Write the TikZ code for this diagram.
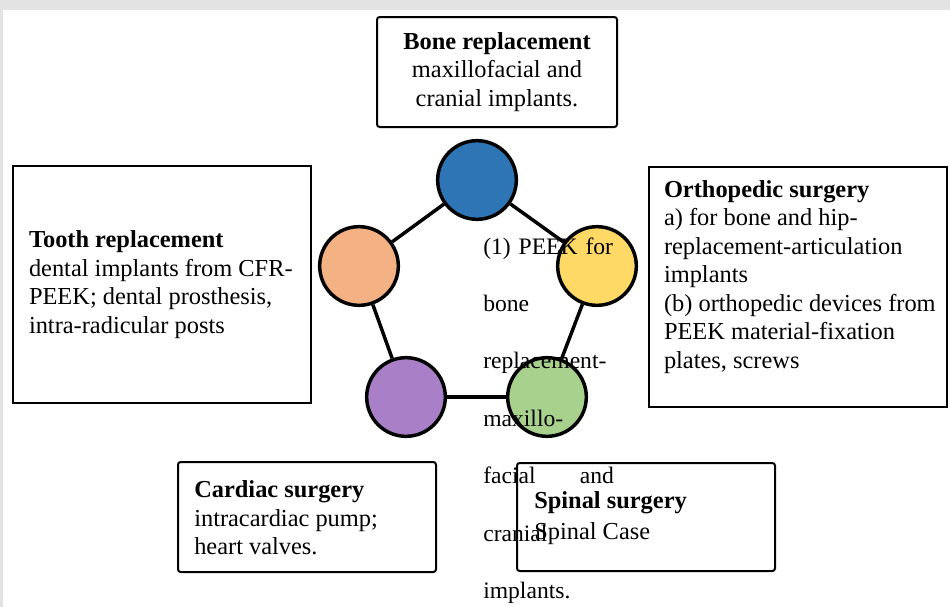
\documentclass[tikz,border=0pt]{standalone}
\usepackage{fontspec}
\setmainfont{Liberation Serif}
\usetikzlibrary{positioning}
\definecolor{peekblue}{HTML}{2E75B6}
\definecolor{peekorange}{HTML}{F4B183}
\definecolor{peekyellow}{HTML}{FFD966}
\definecolor{peekpurple}{HTML}{A97FC8}
\definecolor{peekgreen}{HTML}{A9D18E}
\definecolor{pagegray}{HTML}{E3E3E3}
\tikzset{
    usefont/.style={font=\fontsize{18.3}{21.4}\selectfont},
    sqbox/.style={draw, line width=1.9pt, inner sep=0pt},
    rdbox/.style={draw, line width=1.5pt, rounded corners=2pt, inner sep=0pt},
    boxtext/.style={usefont, align=left, inner sep=0pt, anchor=west},
    hub/.style={circle, draw, line width=2.6pt, minimum size=59pt, inner sep=0pt},
    link/.style={line width=2.6pt}
}

\begin{document}
\begin{tikzpicture}[x=0.75pt, y=-0.75pt]
    \useasboundingbox (0,0) rectangle (950,607);
    \fill [pagegray] (0,0) rectangle (950,607);
    \fill [white] (3,10) rectangle (950,607);

    \node [rdbox, usefont, align=center, minimum width=180pt, minimum height=82.5pt] (bone) at (497,72)
        {{\bfseries Bone replacement}\\ maxillofacial and\\ cranial implants.};

    \node [sqbox, minimum width=223.5pt, minimum height=177.75pt] (tooth) at (162,284.5) {};
    \node [boxtext] (tooth text) at ([xshift=12.75pt]tooth.west)
        {{\bfseries Tooth replacement}\\ dental implants from CFR-\\ PEEK; dental prosthesis,\\ intra-radicular posts};

    \node [sqbox, minimum width=223.5pt, minimum height=180pt] (ortho) at (798,287) {};
    \node [boxtext] (ortho text) at ([xshift=12pt, yshift=7.5pt]ortho.west)
        {{\bfseries Orthopedic surgery}\\ a) for bone and hip-\\ replacement-articulation\\ implants\\ (b) orthopedic devices from\\ PEEK material-fixation\\ plates, screws};

    \node [rdbox, minimum width=193.5pt, minimum height=82.5pt] (cardiac) at (307,517) {};
    \node [boxtext] (cardiac text) at ([xshift=12.75pt, yshift=-0.75pt]cardiac.west)
        {{\bfseries Cardiac surgery}\\ intracardiac pump;\\ heart valves.};

    \node [rdbox, minimum width=193.5pt, minimum height=81pt] (spinal) at (646,517) {};
    \node [boxtext] (spinal text) at ([xshift=13.5pt, yshift=-0.75pt]spinal.west)
        {{\bfseries Spinal surgery}\\[1.5pt] Spinal Case};

    \node [hub, fill=peekblue] (cbone) at (477,180) {};
    \node [hub, fill=peekorange] (ctooth) at (359,266) {};
    \node [hub, fill=peekyellow] (cortho) at (597,266) {};
    \node [hub, fill=peekpurple] (ccardiac) at (406,397) {};
    \node [hub, fill=peekgreen] (cspinal) at (547,397) {};
    \draw [link] (cbone) -- (ctooth);
    \draw [link] (cbone) -- (cortho);
    \draw [link] (cortho) -- (cspinal);
    \draw [link] (cspinal) -- (ccardiac);
    \draw [link] (ccardiac) -- (ctooth);

    \node [anchor=base west, inner sep=0pt, text width=98pt, align=left, font=\fontsize{17.7}{43.1}\selectfont] (peek) at (483,254)
        {(1) PEEK for\\ bone\\ replacement-\\ maxillo-\\ facial\hfill and\\ cranial\\ implants.};
\end{tikzpicture}
\end{document}
